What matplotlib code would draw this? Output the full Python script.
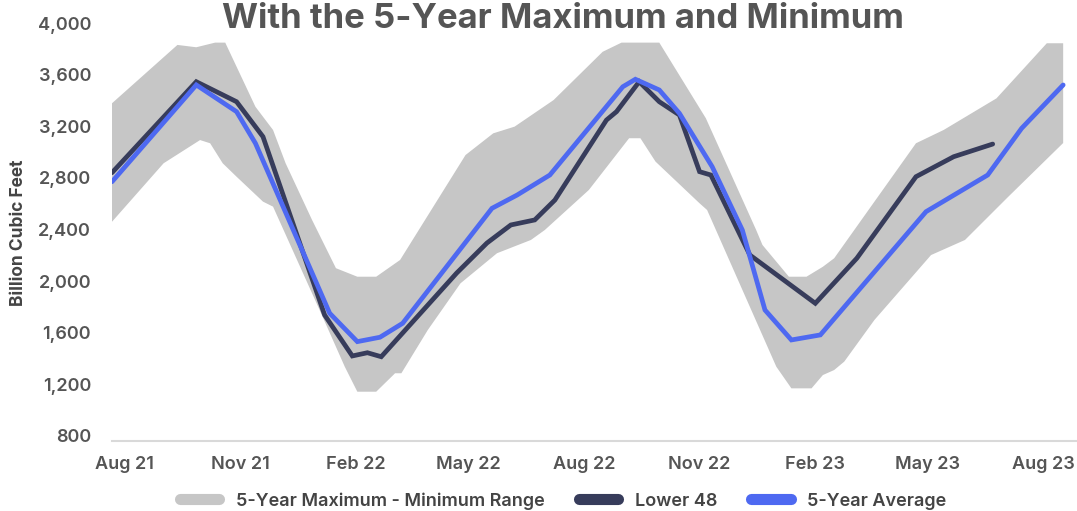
import matplotlib
matplotlib.use("Agg")
import matplotlib.pyplot as plt
import matplotlib.dates as mdates
from matplotlib.lines import Line2D
import numpy as np
import pandas as pd

# Working gas in storage, Lower 48 (Bcf)
lower48_dates = ["2021-07-22", "2021-09-27", "2021-10-29", "2021-11-19", "2022-01-07",
                 "2022-01-29", "2022-02-10", "2022-02-21", "2022-04-22", "2022-05-16",
                 "2022-06-04", "2022-06-23", "2022-07-09", "2022-08-19", "2022-08-27",
                 "2022-09-14", "2022-09-30", "2022-10-16", "2022-11-01", "2022-11-10",
                 "2022-12-11", "2023-02-01", "2023-03-06", "2023-04-22", "2023-05-22",
                 "2023-06-22"]
lower48_values = [2840, 3545, 3390, 3119, 1737,
                  1420, 1445, 1414, 2063, 2295,
                  2435, 2474, 2628, 3248, 3313,
                  3545, 3390, 3287, 2848, 2822,
                  2202, 1828, 2177, 2809, 2964,
                  3062]

avg_dates = ["2021-07-22", "2021-09-27", "2021-10-29", "2021-11-13", "2022-01-11",
             "2022-02-02", "2022-02-20", "2022-03-10", "2022-05-20", "2022-06-09",
             "2022-07-05", "2022-09-01", "2022-09-11", "2022-09-30", "2022-10-16",
             "2022-11-11", "2022-12-05", "2022-12-23", "2023-01-13", "2023-02-05",
             "2023-04-30", "2023-06-18", "2023-07-15", "2023-08-17"]
avg_values = [2770, 3520, 3313, 3068, 1751,
              1531, 1565, 1673, 2564, 2667,
              2822, 3506, 3564, 3481, 3300,
              2887, 2396, 1776, 1544, 1583,
              2538, 2822, 3184, 3520]

max_dates = ["2021-07-22", "2021-09-12", "2021-09-27", "2021-10-12", "2021-10-20",
             "2021-11-13", "2021-11-27", "2021-12-07", "2021-12-28", "2022-01-16",
             "2022-02-02", "2022-02-17", "2022-03-08", "2022-04-29", "2022-05-21",
             "2022-06-07", "2022-07-08", "2022-08-16", "2022-08-31", "2022-09-30",
             "2022-11-06", "2022-12-16", "2022-12-21", "2023-01-11", "2023-01-25",
             "2023-02-07", "2023-02-16", "2023-04-22", "2023-05-14", "2023-06-25",
             "2023-08-04", "2023-08-17"]
max_values = [3378, 3830, 3812, 3848, 3848,
              3351, 3171, 2913, 2474, 2100,
              2034, 2034, 2164, 2977, 3145,
              3197, 3403, 3777, 3848, 3848,
              3262, 2396, 2280, 2034, 2034,
              2111, 2177, 3068, 3171, 3416,
              3843, 3843]

min_dates = ["2021-07-22", "2021-09-01", "2021-09-30", "2021-10-08", "2021-10-18",
             "2021-10-29", "2021-11-19", "2021-11-27", "2022-01-03", "2022-01-23",
             "2022-02-02", "2022-02-17", "2022-03-04", "2022-03-09", "2022-03-30",
             "2022-04-25", "2022-05-24", "2022-06-20", "2022-07-01", "2022-08-05",
             "2022-09-06", "2022-09-15", "2022-09-27", "2022-11-01", "2022-11-07",
             "2023-01-01", "2023-01-13", "2023-01-29", "2023-02-07", "2023-02-16",
             "2023-02-24", "2023-03-20", "2023-05-04", "2023-05-31", "2023-07-04",
             "2023-08-17"]
min_values = [2460, 2913, 3093, 3068, 2913,
              2809, 2616, 2577, 1776, 1337,
              1143, 1143, 1286, 1286, 1621,
              1983, 2216, 2319, 2396, 2706,
              3107, 3107, 2926, 2603, 2551,
              1337, 1169, 1169, 1272, 1311,
              1376, 1699, 2202, 2319, 2650,
              3070]

tick_dates = ["2021-08-01", "2021-11-01", "2022-02-01", "2022-05-01", "2022-08-01",
              "2022-11-01", "2023-02-01", "2023-05-01", "2023-08-01"]
tick_labels = ["Aug 21", "Nov 21", "Feb 22", "May 22", "Aug 22",
               "Nov 22", "Feb 23", "May 23", "Aug 23"]
y_ticks = [800, 1200, 1600, 2000, 2400, 2800, 3200, 3600, 4000]

BAND = "#c6c6c6"
DARK = "#373c5b"
BLUE = "#4e69f1"
TEXT = "#555555"

plt.rcParams["font.family"] = ["Inter", "DejaVu Sans"]

fig = plt.figure(figsize=(10.77, 5.11), dpi=100)
ax = fig.add_axes([112 / 1077, 1 - 441 / 511, 1 - 112 / 1077, (441 - 23) / 511])

to_dt = lambda s: pd.to_datetime(s)
mx = to_dt(max_dates)
mn = to_dt(min_dates)
band_x = np.concatenate([mdates.date2num(mx), mdates.date2num(mn)[::-1]])
band_y = np.concatenate([np.array(max_values), np.array(min_values)[::-1]])
ax.fill(band_x, band_y, color=BAND, lw=0, zorder=1)

ax.plot(to_dt(lower48_dates), lower48_values, color=DARK, lw=3.4,
        solid_joinstyle="miter", solid_capstyle="round", zorder=3)
ax.plot(to_dt(avg_dates), avg_values, color=BLUE, lw=3.4,
        solid_joinstyle="miter", solid_capstyle="round", zorder=4)

ax.set_xlim(pd.Timestamp("2021-07-22"), pd.Timestamp("2023-08-28"))
ax.set_ylim(761, 4000)

ax.set_xticks(to_dt(tick_dates))
ax.set_xticklabels(tick_labels)
ax.set_yticks(y_ticks)
ax.set_yticklabels([f"{v:,}" for v in y_ticks])
ax.tick_params(axis="both", length=0, labelsize=13, labelcolor=TEXT)
ax.tick_params(axis="y", pad=15)
ax.tick_params(axis="x", pad=11)
for lab in ax.get_xticklabels() + ax.get_yticklabels():
    lab.set_fontweight("semibold")

for side in ["top", "right", "left"]:
    ax.spines[side].set_visible(False)
ax.spines["bottom"].set_color("#d9d9d9")
ax.spines["bottom"].set_linewidth(1.5)
ax.grid(False)
ax.set_facecolor("white")

fig.text(0.523, 1 - 28 / 511, "With the 5-Year Maximum and Minimum",
         ha="center", va="baseline", fontsize=25, fontweight="bold", color=TEXT)

fig.text(19 / 1077, 1 - 233 / 511, "Billion Cubic Feet", rotation=90,
         ha="center", va="center", fontsize=12.5, fontweight="bold", color="#444444")

handles = [
    Line2D([], [], color=BAND, lw=8, solid_capstyle="round"),
    Line2D([], [], color=DARK, lw=8, solid_capstyle="round"),
    Line2D([], [], color=BLUE, lw=8, solid_capstyle="round"),
]
labels = ["5-Year Maximum - Minimum Range", "Lower 48", "5-Year Average"]
leg = fig.legend(handles, labels, loc="center", bbox_to_anchor=(563 / 1077, 1 - 501 / 511),
                 ncol=3, frameon=False, fontsize=13, handlelength=2.2,
                 handletextpad=0.9, columnspacing=1.9, borderaxespad=0)
for t in leg.get_texts():
    t.set_color("#444444")
    t.set_fontweight("semibold")

fig.savefig("out.png", dpi=100, facecolor="white")
